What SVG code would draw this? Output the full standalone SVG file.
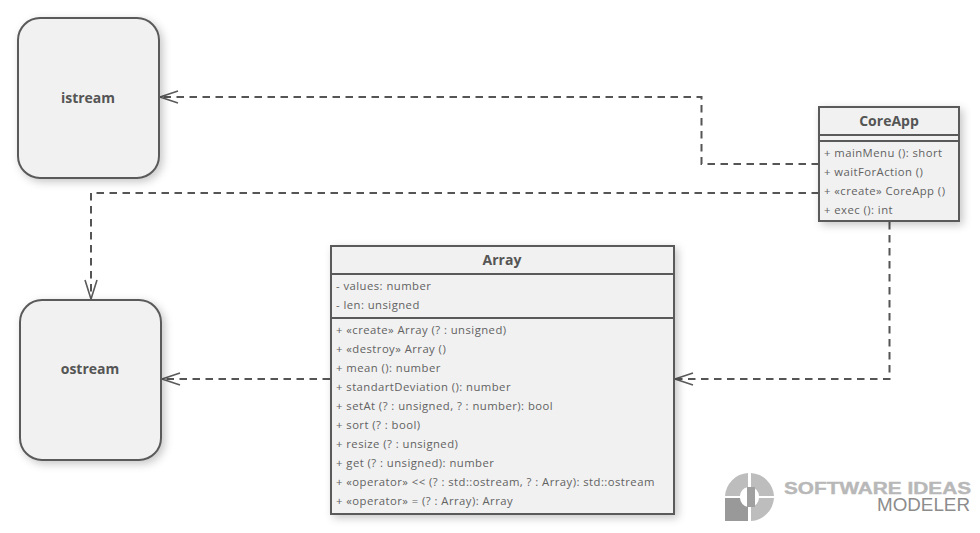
<svg xmlns="http://www.w3.org/2000/svg" width="980" height="533" viewBox="0 0 980 533">
<style>
text{font-family:"Open Sans","Noto Sans","Liberation Sans",sans-serif;fill:#626262}
.t{font-size:14px;font-weight:700;text-anchor:middle;fill:#555}
.m{font-size:11.3px;letter-spacing:.45px}
.n{fill:#f1f1f1;stroke:#5a5a5a;stroke-width:2;filter:url(#s)}
.d{fill:none;stroke:#5a5a5a;stroke-width:2}
.c{fill:none;stroke:#555;stroke-width:2;stroke-dasharray:7.5 5.5}
.a{fill:none;stroke:#5a5a5a;stroke-width:1.6}
.l{fill:#bdbdbd}
</style>
<defs>
<filter id="s" x="-15%" y="-15%" width="130%" height="130%"><feDropShadow dx="3" dy="3" stdDeviation="4" flood-color="#000" flood-opacity=".22"/></filter>
</defs>
<g id="connectors">
<path class="c" d="M819 164H701.500V97H160"/>
<path class="a" d="M178 91L160 97L178 103"/>
<path class="c" d="M819 193H91V299"/>
<path class="a" d="M85 280L91 299L97 280"/>
<path class="c" d="M330 379H162"/>
<path class="a" d="M180 373L162 379L180 385"/>
<path class="c" d="M889.500 222V379H675"/>
<path class="a" d="M693 373L675 379L693 385"/>
</g>
<g id="istream"><rect class="n" x="18" y="18" width="141" height="160" rx="22"/><text class="t" x="88" y="103">istream</text></g>
<g id="ostream"><rect class="n" x="20" y="300" width="141" height="160" rx="22"/><text class="t" x="90" y="374">ostream</text></g>
<g id="CoreApp">
<rect class="n" x="819" y="107" width="140" height="114"/>
<path class="d" d="M819 135H959M819 141H959"/>
<text class="t" x="889" y="126">CoreApp</text>
<text class="m" x="824" y="157">+ mainMenu (): short</text>
<text class="m" x="824" y="176">+ waitForAction ()</text>
<text class="m" x="824" y="195">+ «create» CoreApp ()</text>
<text class="m" x="824" y="214">+ exec (): int</text>
</g>
<g id="Array">
<rect class="n" x="331" y="246" width="343" height="268"/>
<path class="d" d="M331 274H674M331 318H674"/>
<text class="t" x="502" y="265">Array</text>
<text class="m" x="336" y="290">- values: number</text>
<text class="m" x="336" y="309">- len: unsigned</text>
<text class="m" x="336" y="334">+ «create» Array (? : unsigned)</text>
<text class="m" x="336" y="353">+ «destroy» Array ()</text>
<text class="m" x="336" y="372">+ mean (): number</text>
<text class="m" x="336" y="391">+ standartDeviation (): number</text>
<text class="m" x="336" y="410">+ setAt (? : unsigned, ? : number): bool</text>
<text class="m" x="336" y="429">+ sort (? : bool)</text>
<text class="m" x="336" y="448">+ resize (? : unsigned)</text>
<text class="m" x="336" y="467">+ get (? : unsigned): number</text>
<text class="m" x="336" y="486">+ «operator» &lt;&lt; (? : std::ostream, ? : Array): std::ostream</text>
<text class="m" x="336" y="505">+ «operator» = (? : Array): Array</text>
</g>
<g id="logo">
<path class="l" d="M748 473V487A9.500 9.500 0 0 0 740 496H725A24.500 24.500 0 0 1 748 473Z"/>
<path class="l" d="M751 473A24.500 24.500 0 0 1 774 496H759A9.500 9.500 0 0 0 751 487Z"/>
<path class="l" d="M774 498A24.500 24.500 0 0 1 751 521V507A9.500 9.500 0 0 0 759 498Z"/>
<path fill="#999" d="M725 498H740A9.500 9.500 0 0 0 748 507V521H725Z"/>
<rect x="747" y="487" width="8" height="20" fill="#a0a0a0"/>
<text x="784" y="494" textLength="187" lengthAdjust="spacingAndGlyphs" style="font-family:'Liberation Sans',sans-serif;font-size:16px;font-weight:700;fill:#b8b8b8;stroke:#b8b8b8;stroke-width:.4">SOFTWARE IDEAS</text>
<text x="877" y="511" textLength="93" lengthAdjust="spacingAndGlyphs" style="font-family:'Liberation Sans',sans-serif;font-size:19px;fill:#8c8c8c">MODELER</text>
</g>
</svg>
